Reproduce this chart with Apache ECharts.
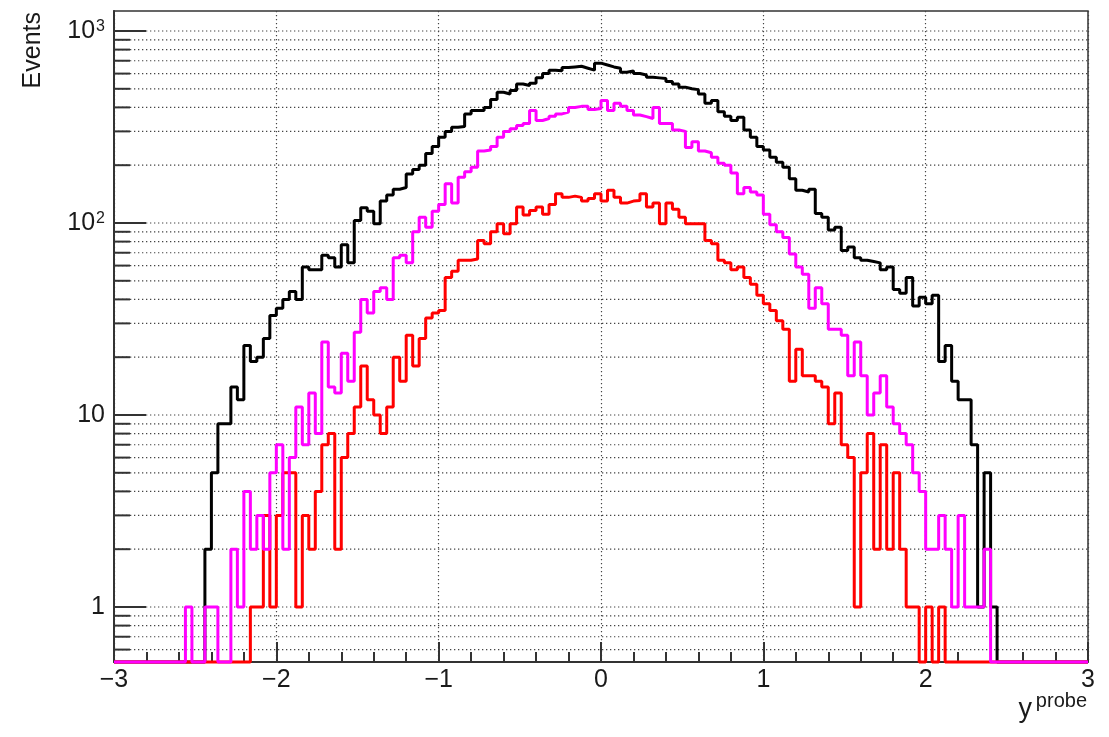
<!DOCTYPE html>
<html>
<head>
<meta charset="utf-8">
<script src="https://cdn.jsdelivr.net/npm/echarts@6/dist/echarts.min.js"></script>
<style>
  html, body { margin: 0; padding: 0; background: #fff; }
  #chart { width: 1109px; height: 737px; }
</style>
</head>
<body>
<div id="chart"></div>
<script>
// 150 bins of 0.04 from -3 to 3
const binLow = -3;
const binWidth = 0.04;

// black: all probes
const allEvents = [
  0, 0, 0, 0, 0, 0, 0, 0, 0, 0,
  0, 0, 0, 0, 2, 5, 9, 9, 14, 12,
  23, 19, 20, 25, 33, 36, 40, 44, 40, 59,
  57, 57, 68, 66, 59, 77, 62, 103, 120, 115,
  99, 130, 140, 150, 153, 180, 190, 200, 230, 250,
  280, 300, 315, 318, 370, 385, 385, 400, 440, 480,
  470, 490, 530, 520, 535, 570, 600, 625, 620, 645,
  650, 655, 640, 625, 680, 665, 650, 640, 610, 620,
  600, 590, 575, 570, 565, 545, 530, 510, 500, 495,
  470, 420, 435, 380, 360, 342, 355, 305, 280, 250,
  240, 220, 207, 195, 170, 148, 145, 150, 112, 107,
  92, 95, 72, 75, 66, 64, 63, 62, 57, 59,
  45, 43, 52, 37, 41, 38, 42, 19, 23, 15,
  12, 12, 7, 1, 5, 1, 0, 0, 0, 0,
  0, 0, 0, 0, 0, 0, 0, 0, 0, 0
];

// magenta
const passEvents = [
  0, 0, 0, 0, 0, 0, 0, 0, 0, 0,
  0, 1, 0, 0, 1, 1, 0, 0, 2, 1,
  4, 2, 3, 2, 5, 7, 2, 6, 11, 7,
  13, 8, 24, 14, 13, 21, 15, 27, 40, 34,
  44, 46, 40, 66, 68, 62, 90, 107, 95, 115,
  125, 160, 127, 173, 185, 195, 237, 240, 250, 280,
  300, 310, 322, 330, 385, 342, 350, 360, 370, 378,
  400, 405, 405, 390, 395, 435, 385, 420, 405, 385,
  365, 358, 350, 400, 330, 330, 305, 300, 247, 265,
  237, 232, 220, 205, 200, 182, 142, 153, 145, 140,
  111, 98, 90, 84, 69, 59, 54, 36, 46, 38,
  28, 28, 26, 16, 24, 16, 10, 13, 16, 11,
  9, 8, 7, 5, 4, 2, 2, 3, 2, 1,
  3, 1, 1, 1, 2, 0, 0, 0, 0, 0,
  0, 0, 0, 0, 0, 0, 0, 0, 0, 0
];

// red
const failEvents = [
  0, 0, 0, 0, 0, 0, 0, 0, 0, 0,
  0, 0, 0, 0, 0, 0, 0, 0, 0, 0,
  0, 1, 1, 3, 1, 3, 5, 5, 1, 3,
  2, 4, 7, 8, 2, 6, 8, 11, 18, 12,
  10, 8, 11, 20, 15, 26, 18, 25, 32, 34,
  35, 52, 56, 64, 64, 65, 81, 78, 90, 99,
  88, 99, 121, 110, 116, 121, 111, 125, 142, 136,
  138, 136, 130, 134, 142, 130, 148, 136, 127, 130,
  131, 142, 121, 127, 99, 127, 118, 107, 99, 99,
  99, 81, 78, 64, 62, 57, 59, 52, 48, 42,
  38, 35, 31, 28, 15, 22, 16, 16, 15, 14,
  9, 13, 7, 6, 1, 5, 8, 2, 7, 2,
  5, 2, 1, 1, 0, 1, 0, 1, 0, 0,
  0, 0, 0, 0, 0, 0, 0, 0, 0, 0,
  0, 0, 0, 0, 0, 0, 0, 0, 0, 0
];

const yTicks = [
  0.6, 0.7, 0.8, 0.9,
  1, 2, 3, 4, 5, 6, 7, 8, 9,
  10, 20, 30, 40, 50, 60, 70, 80, 90,
  100, 200, 300, 400, 500, 600, 700, 800, 900,
  1000
];
const yMajor = [1, 10, 100, 1000];
const yLabels = ["{b|1}", "{b|10}", "{b|10}{s|2}", "{b|10}{s|3}"];

const yMin = 0.517;
const yMax = 1271;

// empty bins sit on the bottom of the frame, like ROOT draws them
function toSteps(counts) {
  var pts = [];
  counts.forEach(function(c, k) {
    var y = c > 0 ? c : yMin;
    var x0 = binLow + k * binWidth;
    pts.push([x0, y], [x0 + binWidth, y]);
  });
  return pts;
}

function histSeries(name, counts, color) {
  return {
    name: name,
    type: "line",
    data: toSteps(counts),
    showSymbol: false,
    symbol: "none",
    clip: false,
    lineStyle: { color: color, width: 3 },
    emphasis: { disabled: true },
  };
}

var chartDom = document.getElementById("chart");
var myChart = echarts.init(chartDom, null, { renderer: "canvas" });

var font = "'Liberation Sans', Arial, Helvetica, sans-serif";

var option = {
  animation: false,
  backgroundColor: "#fff",
  grid: {
    left: 114,
    right: 21,
    top: 11,
    bottom: 75,
    show: true,
    borderColor: "#333",
    borderWidth: 1.5,
    backgroundColor: "transparent",
  },
  xAxis: {
    type: "value",
    min: -3,
    max: 3,
    interval: 1,
    axisLine: { show: true, onZero: false, lineStyle: { color: "#333", width: 2 } },
    axisTick: { show: true, inside: true, length: 20, lineStyle: { color: "#333", width: 2 } },
    minorTick: { show: true, splitNumber: 5, length: 10, lineStyle: { color: "#333", width: 2 } },
    splitLine: { show: true, lineStyle: { color: "#444", width: 1.2, type: [1.3, 2.7] } },
    axisLabel: {
      margin: 6,
      fontFamily: font,
      fontSize: 25,
      color: "#1a1a1a",
      formatter: function(v) {
        return v < 0 ? "\u2212" + Math.abs(v) : String(v);
      },
    },
  },
  yAxis: {
    type: "log",
    logBase: 10,
    min: yMin,
    max: yMax,
    axisLine: { show: true, onZero: false, lineStyle: { color: "#333", width: 2 } },
    axisTick: { show: false },
    splitLine: { show: false },
    axisLabel: {
      customValues: yMajor,
      margin: 9,
      formatter: function(v) {
        var i = yMajor.indexOf(Math.round(v));
        return i >= 0 ? yLabels[i] : "";
      },
      rich: {
        b: { fontFamily: font, fontSize: 25, color: "#1a1a1a" },
        s: { fontFamily: font, fontSize: 16, color: "#1a1a1a", verticalAlign: "top", padding: [0, 0, 0, 1] },
      },
    },
  },
  graphic: [
    {
      type: "text",
      x: 33,
      y: 12,
      rotation: Math.PI / 2,
      style: {
        text: "Events",
        fontFamily: font,
        fontSize: 25,
        fill: "#1a1a1a",
        align: "right",
        verticalAlign: "middle",
      },
    },
    {
      type: "text",
      x: 1032,
      y: 710,
      style: {
        text: "y",
        fontFamily: font,
        fontSize: 27,
        fill: "#1a1a1a",
        align: "right",
        verticalAlign: "middle",
      },
    },
    {
      type: "text",
      x: 1087,
      y: 701,
      style: {
        text: "probe",
        fontFamily: font,
        fontSize: 20,
        fill: "#1a1a1a",
        align: "right",
        verticalAlign: "middle",
      },
    },
  ],
  series: [
    {
      // log grid lines and inner ticks on the y axis
      type: "custom",
      silent: true,
      clip: false,
      data: yTicks.map((v) => [-3, v]),
      renderItem: function(params, api) {
        var v = api.value(1);
        var p0 = api.coord([-3, v]);
        var p1 = api.coord([3, v]);
        var major = yMajor.indexOf(Math.round(v)) >= 0 && v >= 1;
        return {
          type: "group",
          children: [
            {
              type: "line",
              shape: { x1: p0[0], y1: p0[1], x2: p1[0], y2: p1[1] },
              style: { stroke: "#444", lineWidth: 1.2, lineDash: [1.3, 2.7] },
            },
            {
              type: "line",
              shape: { x1: p0[0], y1: p0[1], x2: p0[0] + (major ? 32 : 16), y2: p0[1] },
              style: { stroke: "#333", lineWidth: 2 },
            },
          ],
        };
      },
    },
    histSeries("all", allEvents, "#000000"),
    histSeries("fail", failEvents, "#ff0000"),
    histSeries("pass", passEvents, "#ff00ff"),
  ],
};

myChart.setOption(option);

window.addEventListener("resize", function() {
  myChart.resize();
});
</script>
</body>
</html>
